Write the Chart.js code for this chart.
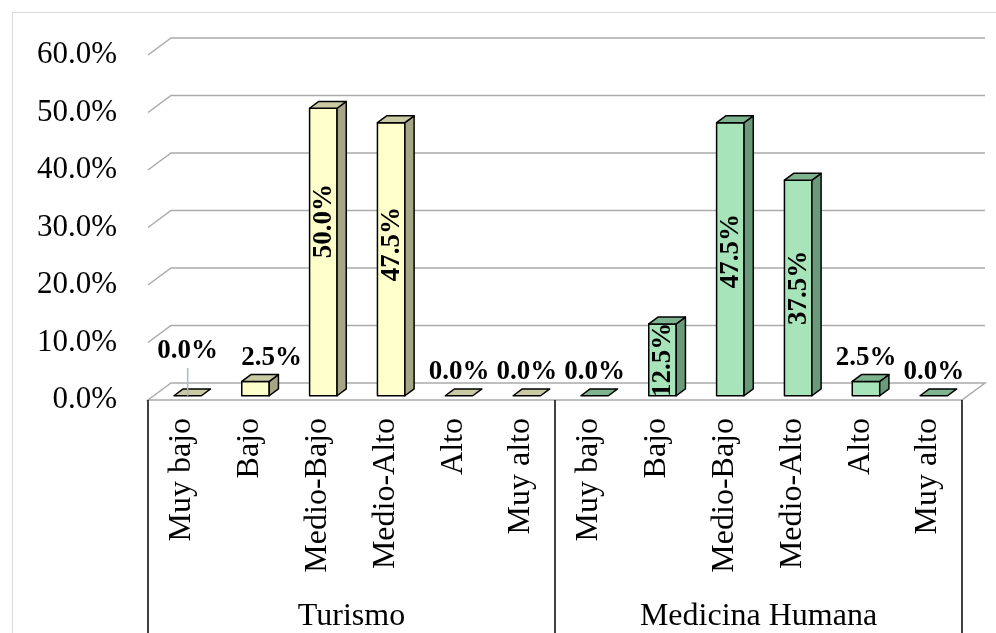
<!DOCTYPE html>
<html>
<head>
<meta charset="utf-8">
<script src="https://cdn.jsdelivr.net/npm/chart.js@4.4.0/dist/chart.umd.min.js"></script>
<style>
html,body{margin:0;padding:0;background:#fff;}
#wrap{width:996px;height:633px;position:relative;}
</style>
</head>
<body>
<div id="wrap"><canvas id="c" width="996" height="633"></canvas></div>
<script>
// ---- data ----
const groups = ['Turismo', 'Medicina Humana'];
const levels = ['Muy bajo', 'Bajo', 'Medio-Bajo', 'Medio-Alto', 'Alto', 'Muy alto'];
const turismo = [0.0, 2.5, 50.0, 47.5, 0.0, 0.0];
const medicina = [0.0, 12.5, 47.5, 37.5, 2.5, 0.0];
const yTicks = [0, 10, 20, 30, 40, 50, 60];

const labels = groups.flatMap(() => levels);
const values = turismo.concat(medicina);
const groupOf = labels.map((_, i) => Math.floor(i / levels.length));

// ---- styles ----
const SERIF = '"Liberation Serif", "Times New Roman", serif';
const faces = [
  { front: '#FFFFCC', top: '#C9C9A4', side: '#A6A687' },
  { front: '#A8E4B9', top: '#7EB38F', side: '#6B9A7B' }
];
const DX = 23, DY = -17;          // floor depth projection
const Z0 = 0.25, Z1 = 0.65;       // bar depth range
const labelNudge = { 0: [0, -21], 1: [16, 0], 2: [0, -31], 3: [0, -15], 8: [0, -8] };
const leaderFor = [0];

const threeD = {
  id: 'threeD',
  beforeDraw(chart) {
    const ctx = chart.ctx;
    ctx.save();
    ctx.fillStyle = '#fff';
    ctx.fillRect(0, 0, chart.width, chart.height);
    ctx.strokeStyle = '#D9D9D9';
    ctx.lineWidth = 1;
    ctx.strokeRect(12.5, 12.5, chart.width + 20, chart.height + 20);
    ctx.restore();
  },
  beforeDatasetsDraw(chart) {
    const { ctx, chartArea: a, scales: { x, y } } = chart;
    ctx.save();
    ctx.strokeStyle = '#ABABAB';
    ctx.lineWidth = 1.5;
    yTicks.forEach(t => {
      const py = y.getPixelForValue(t);
      ctx.beginPath();
      ctx.moveTo(a.left, py);
      ctx.lineTo(a.left + DX, py + DY);
      ctx.lineTo(a.right + DX, py + DY);
      if (t === 0) {
        ctx.lineTo(a.right, py);
        ctx.closePath();
      }
      ctx.stroke();
    });
    // multi-level category box
    const y0 = y.getPixelForValue(0);
    const n = levels.length;
    const bounds = [a.left];
    for (let g = 1; g < groups.length; g++) {
      bounds.push((x.getPixelForValue(g * n - 1) + x.getPixelForValue(g * n)) / 2);
    }
    bounds.push(a.right);
    ctx.strokeStyle = '#000';
    ctx.lineWidth = 1.5;
    bounds.forEach(bx => {
      ctx.beginPath();
      ctx.moveTo(bx, y0);
      ctx.lineTo(bx, chart.height + 5);
      ctx.stroke();
    });
    ctx.fillStyle = '#000';
    ctx.font = '32px ' + SERIF;
    ctx.textAlign = 'center';
    ctx.textBaseline = 'alphabetic';
    groups.forEach((g, i) => {
      ctx.fillText(g, (bounds[i] + bounds[i + 1]) / 2, chart.height - 8);
    });
    ctx.restore();
  },
  afterDatasetsDraw(chart) {
    const ctx = chart.ctx;
    const meta = chart.getDatasetMeta(0);
    ctx.save();
    ctx.lineJoin = 'round';
    const boxes = [];
    meta.data.forEach((el, i) => {
      const p = el.getProps(['x', 'y', 'base', 'width'], true);
      const f = faces[groupOf[i]];
      const ox = DX * Z0, oy = DY * Z0;
      const dx = DX * (Z1 - Z0), dy = DY * (Z1 - Z0);
      const L = p.x - p.width / 2 + ox, R = p.x + p.width / 2 + ox;
      const T = p.y + oy, B = p.base + oy;
      boxes.push({ L, R, T, B, dx, dy });
      ctx.strokeStyle = '#000';
      ctx.lineWidth = 1.5;
      if (B - T > 0.5) {
        ctx.fillStyle = f.front;
        ctx.beginPath();
        ctx.rect(L, T, R - L, B - T);
        ctx.fill(); ctx.stroke();
        ctx.fillStyle = f.side;
        ctx.beginPath();
        ctx.moveTo(R, T); ctx.lineTo(R + dx, T + dy); ctx.lineTo(R + dx, B + dy); ctx.lineTo(R, B);
        ctx.closePath(); ctx.fill(); ctx.stroke();
      }
      ctx.fillStyle = f.top;
      ctx.beginPath();
      ctx.moveTo(L, T); ctx.lineTo(L + dx, T + dy); ctx.lineTo(R + dx, T + dy); ctx.lineTo(R, T);
      ctx.closePath(); ctx.fill(); ctx.stroke();
    });
    // data labels
    ctx.fillStyle = '#000';
    ctx.font = 'bold 27px ' + SERIF;
    boxes.forEach((b, i) => {
      const v = values[i];
      const txt = v.toFixed(1) + '%';
      const nd = labelNudge[i] || [0, 0];
      const cx = (b.L + b.R) / 2 + nd[0];
      if (v >= 10) {
        const cy = (b.T + b.B) / 2 + nd[1];
        ctx.save();
        ctx.translate(cx, cy);
        ctx.rotate(-Math.PI / 2);
        ctx.textAlign = 'center';
        ctx.textBaseline = 'middle';
        ctx.fillText(txt, 0, 1);
        ctx.restore();
      } else {
        const baseY = b.T + b.dy - 10 + nd[1];
        ctx.textAlign = 'center';
        ctx.textBaseline = 'alphabetic';
        ctx.fillText(txt, cx, baseY);
        if (leaderFor.includes(i)) {
          ctx.save();
          ctx.strokeStyle = '#A9B9CB';
          ctx.lineWidth = 1.5;
          ctx.beginPath();
          ctx.moveTo(cx, baseY + 10);
          ctx.lineTo(cx, b.B);
          ctx.stroke();
          ctx.restore();
        }
      }
    });
    ctx.restore();
  }
};

new Chart(document.getElementById('c'), {
  type: 'bar',
  data: {
    labels: labels,
    datasets: [{
      data: values,
      backgroundColor: 'rgba(0,0,0,0)',
      borderWidth: 0,
      categoryPercentage: 1.0,
      barPercentage: 0.405
    }]
  },
  options: {
    responsive: false,
    animation: false,
    events: [],
    layout: { padding: { left: 10, top: 55, right: 34, bottom: 0 } },
    plugins: { legend: { display: false }, tooltip: { enabled: false } },
    scales: {
      x: {
        grid: { display: false, drawTicks: false },
        border: { display: false },
        ticks: {
          autoSkip: false,
          maxRotation: 90,
          minRotation: 90,
          padding: 18,
          color: '#000',
          font: { family: SERIF, size: 32 }
        },
        afterFit(s) { s.height = 233; }
      },
      y: {
        min: 0,
        max: 60,
        grid: { display: false, drawTicks: false },
        border: { display: false },
        ticks: {
          stepSize: 10,
          padding: 31,
          color: '#000',
          font: { family: SERIF, size: 31 },
          callback: v => Number(v).toFixed(1) + '%'
        },
        afterFit(s) { s.width = 138; }
      }
    }
  },
  plugins: [threeD]
});
</script>
</body>
</html>
